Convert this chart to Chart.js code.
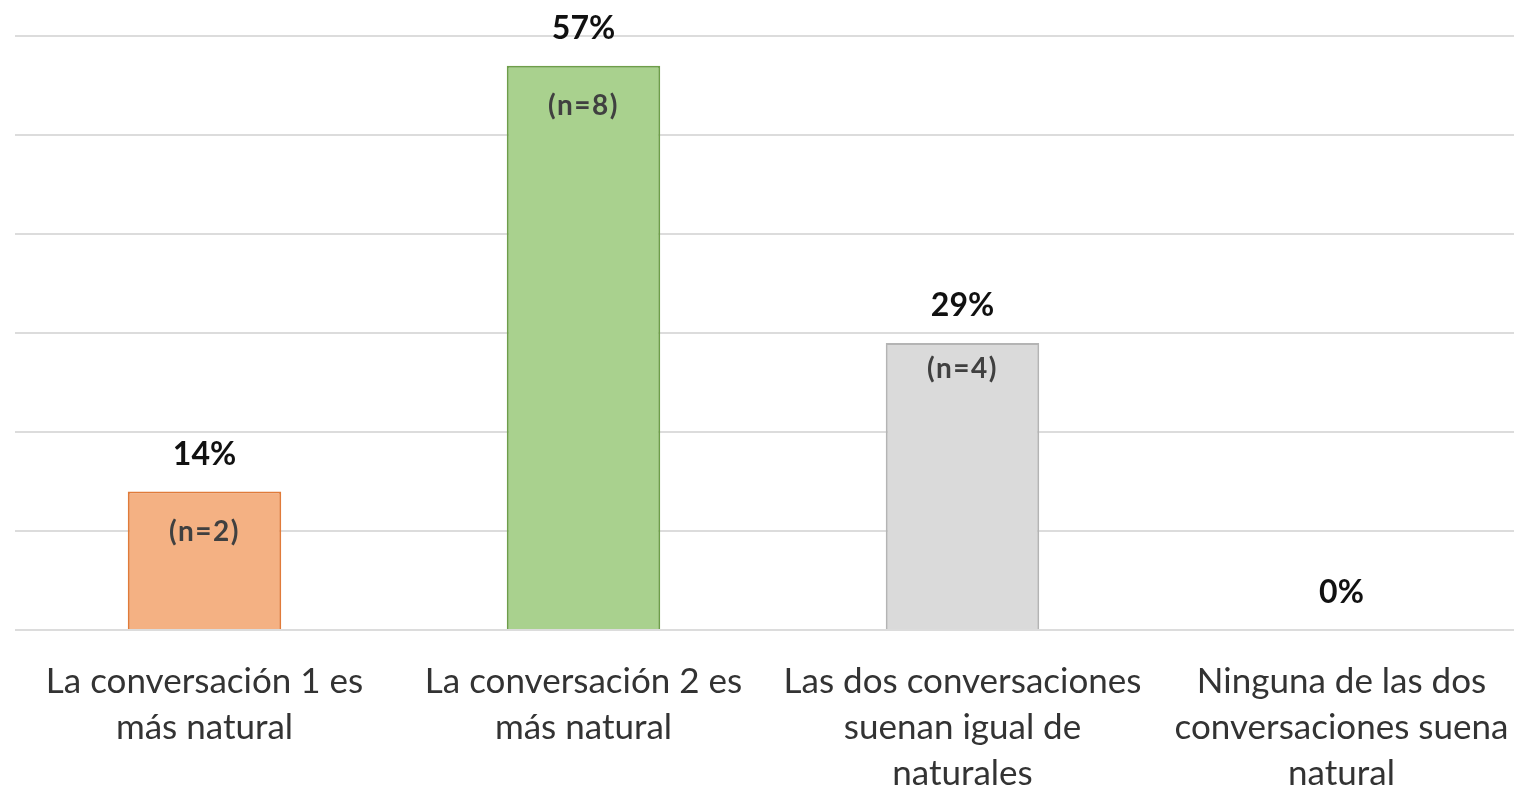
<!DOCTYPE html>
<html lang="es">
<head>
<meta charset="utf-8">
<title>Naturalidad de las conversaciones</title>
<script src="https://cdn.jsdelivr.net/npm/chart.js@4.4.1/dist/chart.umd.min.js"></script>
<style>
  html, body { margin: 0; padding: 0; background: #ffffff; overflow: hidden; }
  #wrap { position: relative; width: 1531px; height: 790px; }
</style>
</head>
<body>
<div id="wrap"><canvas id="chart"></canvas></div>
<script>
// Categories (multi-line axis labels)
const categories = [
  ['La conversación 1 es', 'más natural'],
  ['La conversación 2 es', 'más natural'],
  ['Las dos conversaciones', 'suenan igual de', 'naturales'],
  ['Ninguna de las dos', 'conversaciones suena', 'natural']
];
// Share of answers (%) and number of respondents
const percentages = [14, 57, 29, 0];
const counts = [2, 8, 4, 0];
// Value axis ticks
const yTicks = [0, 10, 20, 30, 40, 50, 60];

const fillColors = ['#F4B183', '#A9D18E', '#DADADA', '#DADADA'];
const borderColors = ['#E07B3A', '#6E9E4A', '#B4B4B4', '#B4B4B4'];
const countLabelDy = [41, 40, 26, 26];

const FONT = 'Lato, "Open Sans", "Liberation Sans", sans-serif';

// Draws the percentage above each bar and the (n=…) count inside it
const barLabels = {
  id: 'barLabels',
  afterDatasetsDraw(chart) {
    const ctx = chart.ctx;
    const meta = chart.getDatasetMeta(0);
    ctx.save();
    ctx.textAlign = 'center';
    ctx.textBaseline = 'middle';
    meta.data.forEach((bar, i) => {
      ctx.fillStyle = '#111111';
      ctx.font = 'bold 32px ' + FONT;
      ctx.letterSpacing = '0px';
      ctx.fillText(percentages[i] + '%', bar.x, bar.y - 37);
      if (counts[i] > 0) {
        ctx.fillStyle = '#404040';
        ctx.font = 'bold 28px ' + FONT;
        ctx.letterSpacing = '1.5px';
        ctx.fillText('(n=' + counts[i] + ')', bar.x, bar.y + countLabelDy[i]);
      }
    });
    ctx.restore();
  }
};

new Chart(document.getElementById('chart'), {
  type: 'bar',
  data: {
    labels: categories,
    datasets: [{
      data: percentages,
      backgroundColor: fillColors,
      borderColor: borderColors,
      borderWidth: 2,
      borderSkipped: 'bottom',
      categoryPercentage: 1.0,
      barPercentage: 0.405
    }]
  },
  options: {
    responsive: true,
    maintainAspectRatio: false,
    animation: false,
    layout: { padding: { left: 15, right: 0, top: 36, bottom: 0 } },
    plugins: { legend: { display: false }, tooltip: { enabled: false } },
    scales: {
      x: {
        grid: { display: false },
        border: { display: false },
        ticks: {
          color: '#333333',
          font: { family: FONT, size: 35, lineHeight: '46px' },
          padding: 21,
          maxRotation: 0,
          autoSkip: false
        },
        afterFit(scale) { scale.height = 160; }
      },
      y: {
        min: 0,
        max: 60,
        afterBuildTicks(scale) { scale.ticks = yTicks.map(v => ({ value: v })); },
        ticks: { display: false },
        border: { display: false },
        grid: { color: '#DCDCDC', lineWidth: 2, drawTicks: false },
        afterFit(scale) { scale.width = 0; }
      }
    }
  },
  plugins: [barLabels]
});
</script>
</body>
</html>
